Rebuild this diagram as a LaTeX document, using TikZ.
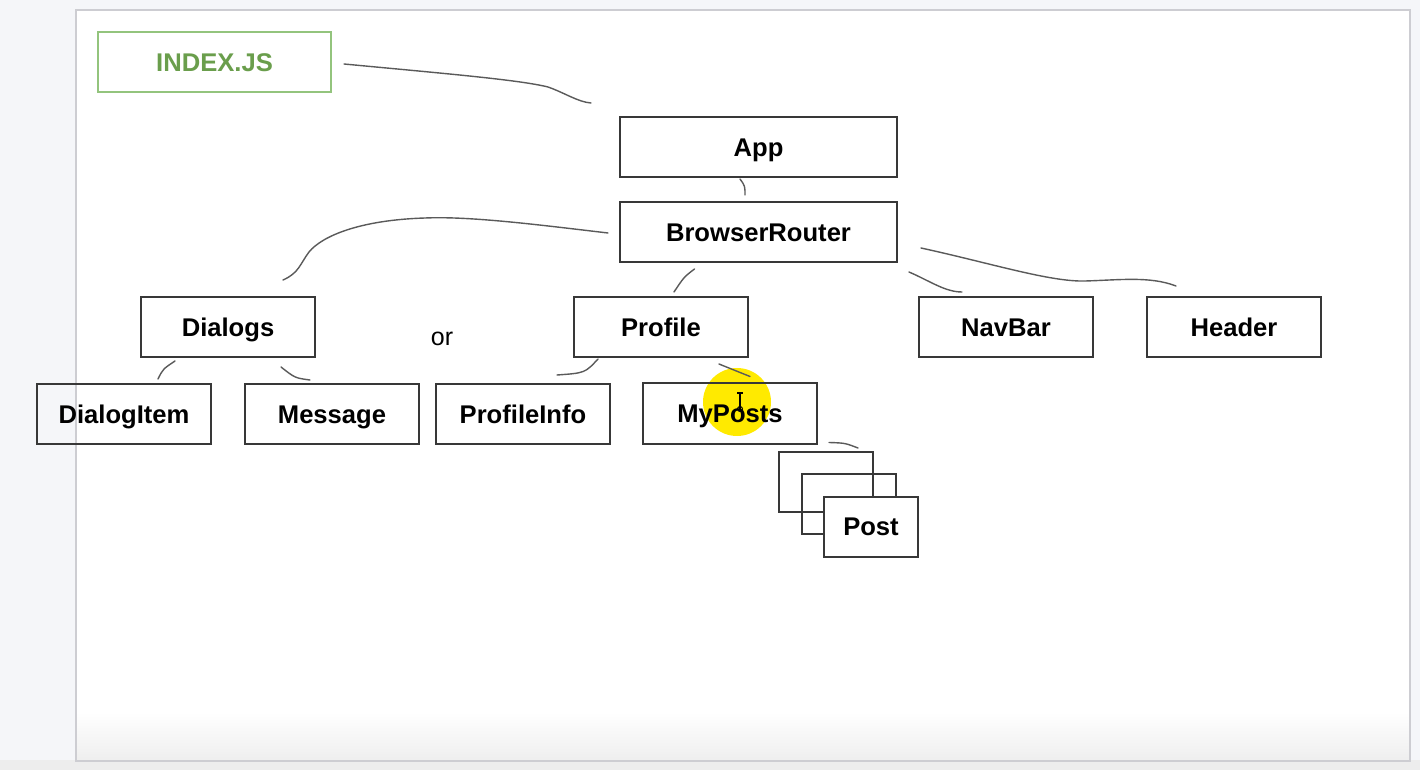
\documentclass[tikz,border=0pt]{standalone}
\usepackage{fontspec}
\setmainfont{Liberation Sans}
\usetikzlibrary{calc}
\definecolor{outerbg}{HTML}{F5F6F9}
\definecolor{pageedge}{HTML}{CDCDD2}
\definecolor{boxc}{HTML}{383838}
\definecolor{linec}{HTML}{5A5A5A}
\definecolor{gtext}{HTML}{6A9E4C}
\definecolor{gedge}{HTML}{93C47D}
\definecolor{hilite}{HTML}{FFEA00}
\tikzset{
  box/.style={draw=boxc, line width=1pt, minimum width=87pt, minimum height=30pt,
    inner sep=0pt, text height=9.1pt, text depth=0pt,
    font=\bfseries\fontsize{12.8}{15}\selectfont, text=black},
  wide/.style={minimum width=138.5pt},
  postbox/.style={box, minimum width=47pt},
  conn/.style={draw=linec, line width=0.7pt, line cap=round},
}
\begin{document}
\begin{tikzpicture}[x=0.5pt,y=-0.5pt]
\useasboundingbox (0,0) rectangle (1420,770);
% background and page
\fill[outerbg] (0,0) rectangle (1420,770);
\fill[gray!14] (0,760) rectangle (1420,770);
\fill[white] (76,10) rectangle (1410,761);
\shade[top color=white, bottom color=gray!13] (77,712) rectangle (1409,760);
\draw[pageedge, line width=1.1pt] (76,10) rectangle (1410,761);
% cursor highlight
\fill[hilite] (737,402) circle (34);
% nodes
\node[box, minimum width=116.5pt, draw=gedge, text=gtext] (index) at (214.5,62) {INDEX.JS};
\node[box, wide] (app) at (758.5,147) {App};
\node[box, wide] (br) at (758.5,232) {BrowserRouter};
\node[box] (dialogs) at (228,327) {Dialogs};
\node[box] (profile) at (661,327) {Profile};
\node[box] (navbar) at (1006,327) {NavBar};
\node[box] (header) at (1234,327) {Header};
\node[box] (dialogitem) at (124,414) {DialogItem};
\node[box] (message) at (332,414) {Message};
\node[box] (profileinfo) at (523,414) {ProfileInfo};
\node[box] (myposts) at (730,413.5) {MyPosts};
\node[postbox] (post1) at (826,482) {};
\node[postbox] (post2) at (849,503.5) {};
\node[postbox, fill=white] (post3) at (871,526.5) {Post};
\node[font=\fontsize{12.5}{15}\selectfont, inner sep=0pt] (or) at (442,339) {or};
% cursor I-beam
\draw[black, line width=0.6pt] (740,393) -- (740,409) (737,393) -- (743,393);
\draw[black, line width=0.5pt] (740,409) circle (2.5);
% connectors
\draw[conn] ($(index.east)+(12,2)$) .. controls (450,74) and (520,80) .. (548,87)
  .. controls (565,93) and (578,102) .. ($(app.north west)+(-28,-13)$);
\draw[conn] ($(app.south)+(-18.5,1)$) .. controls (745,186) .. ($(br.north)+(-13.5,-6)$);
\draw[conn] ($(br.west)+(-11,1)$) .. controls (540,225) and (470,216) .. (425,218)
  .. controls (360,220) and (322,236) .. (309,252)
  .. controls (300,264) and (299,273) .. ($(dialogs.north)+(55,-16)$);
\draw[conn] ($(br.south)+(-64,6)$) .. controls (684,277) .. ($(profile.north)+(13,-4)$);
\draw[conn] ($(br.south east)+(11,9)$) .. controls (930,281) and (945,292) .. ($(navbar.north west)+(44,-4)$);
\draw[conn] ($(br.east)+(23,16)$) .. controls (990,263) and (1050,282) .. (1085,281)
  .. controls (1120,280) and (1150,276) .. ($(header.north)+(-58,-10)$);
\draw[conn] ($(dialogs.south)+(-53,3)$) .. controls (163,369) .. ($(dialogitem.north)+(34,-4)$);
\draw[conn] ($(dialogs.south)+(53,9)$) .. controls (295,378) .. ($(message.north)+(-22,-3)$);
\draw[conn] ($(profile.south)+(-63,1)$) .. controls (585,373) .. ($(profileinfo.north)+(34,-8)$);
\draw[conn] ($(profile.south)+(58,6)$) -- ($(myposts.north)+(20,-6)$);
\draw[conn] ($(myposts.south east)+(11,-2)$) .. controls (845,443) .. ($(post1.north)+(32,-3)$);
\end{tikzpicture}
\end{document}
